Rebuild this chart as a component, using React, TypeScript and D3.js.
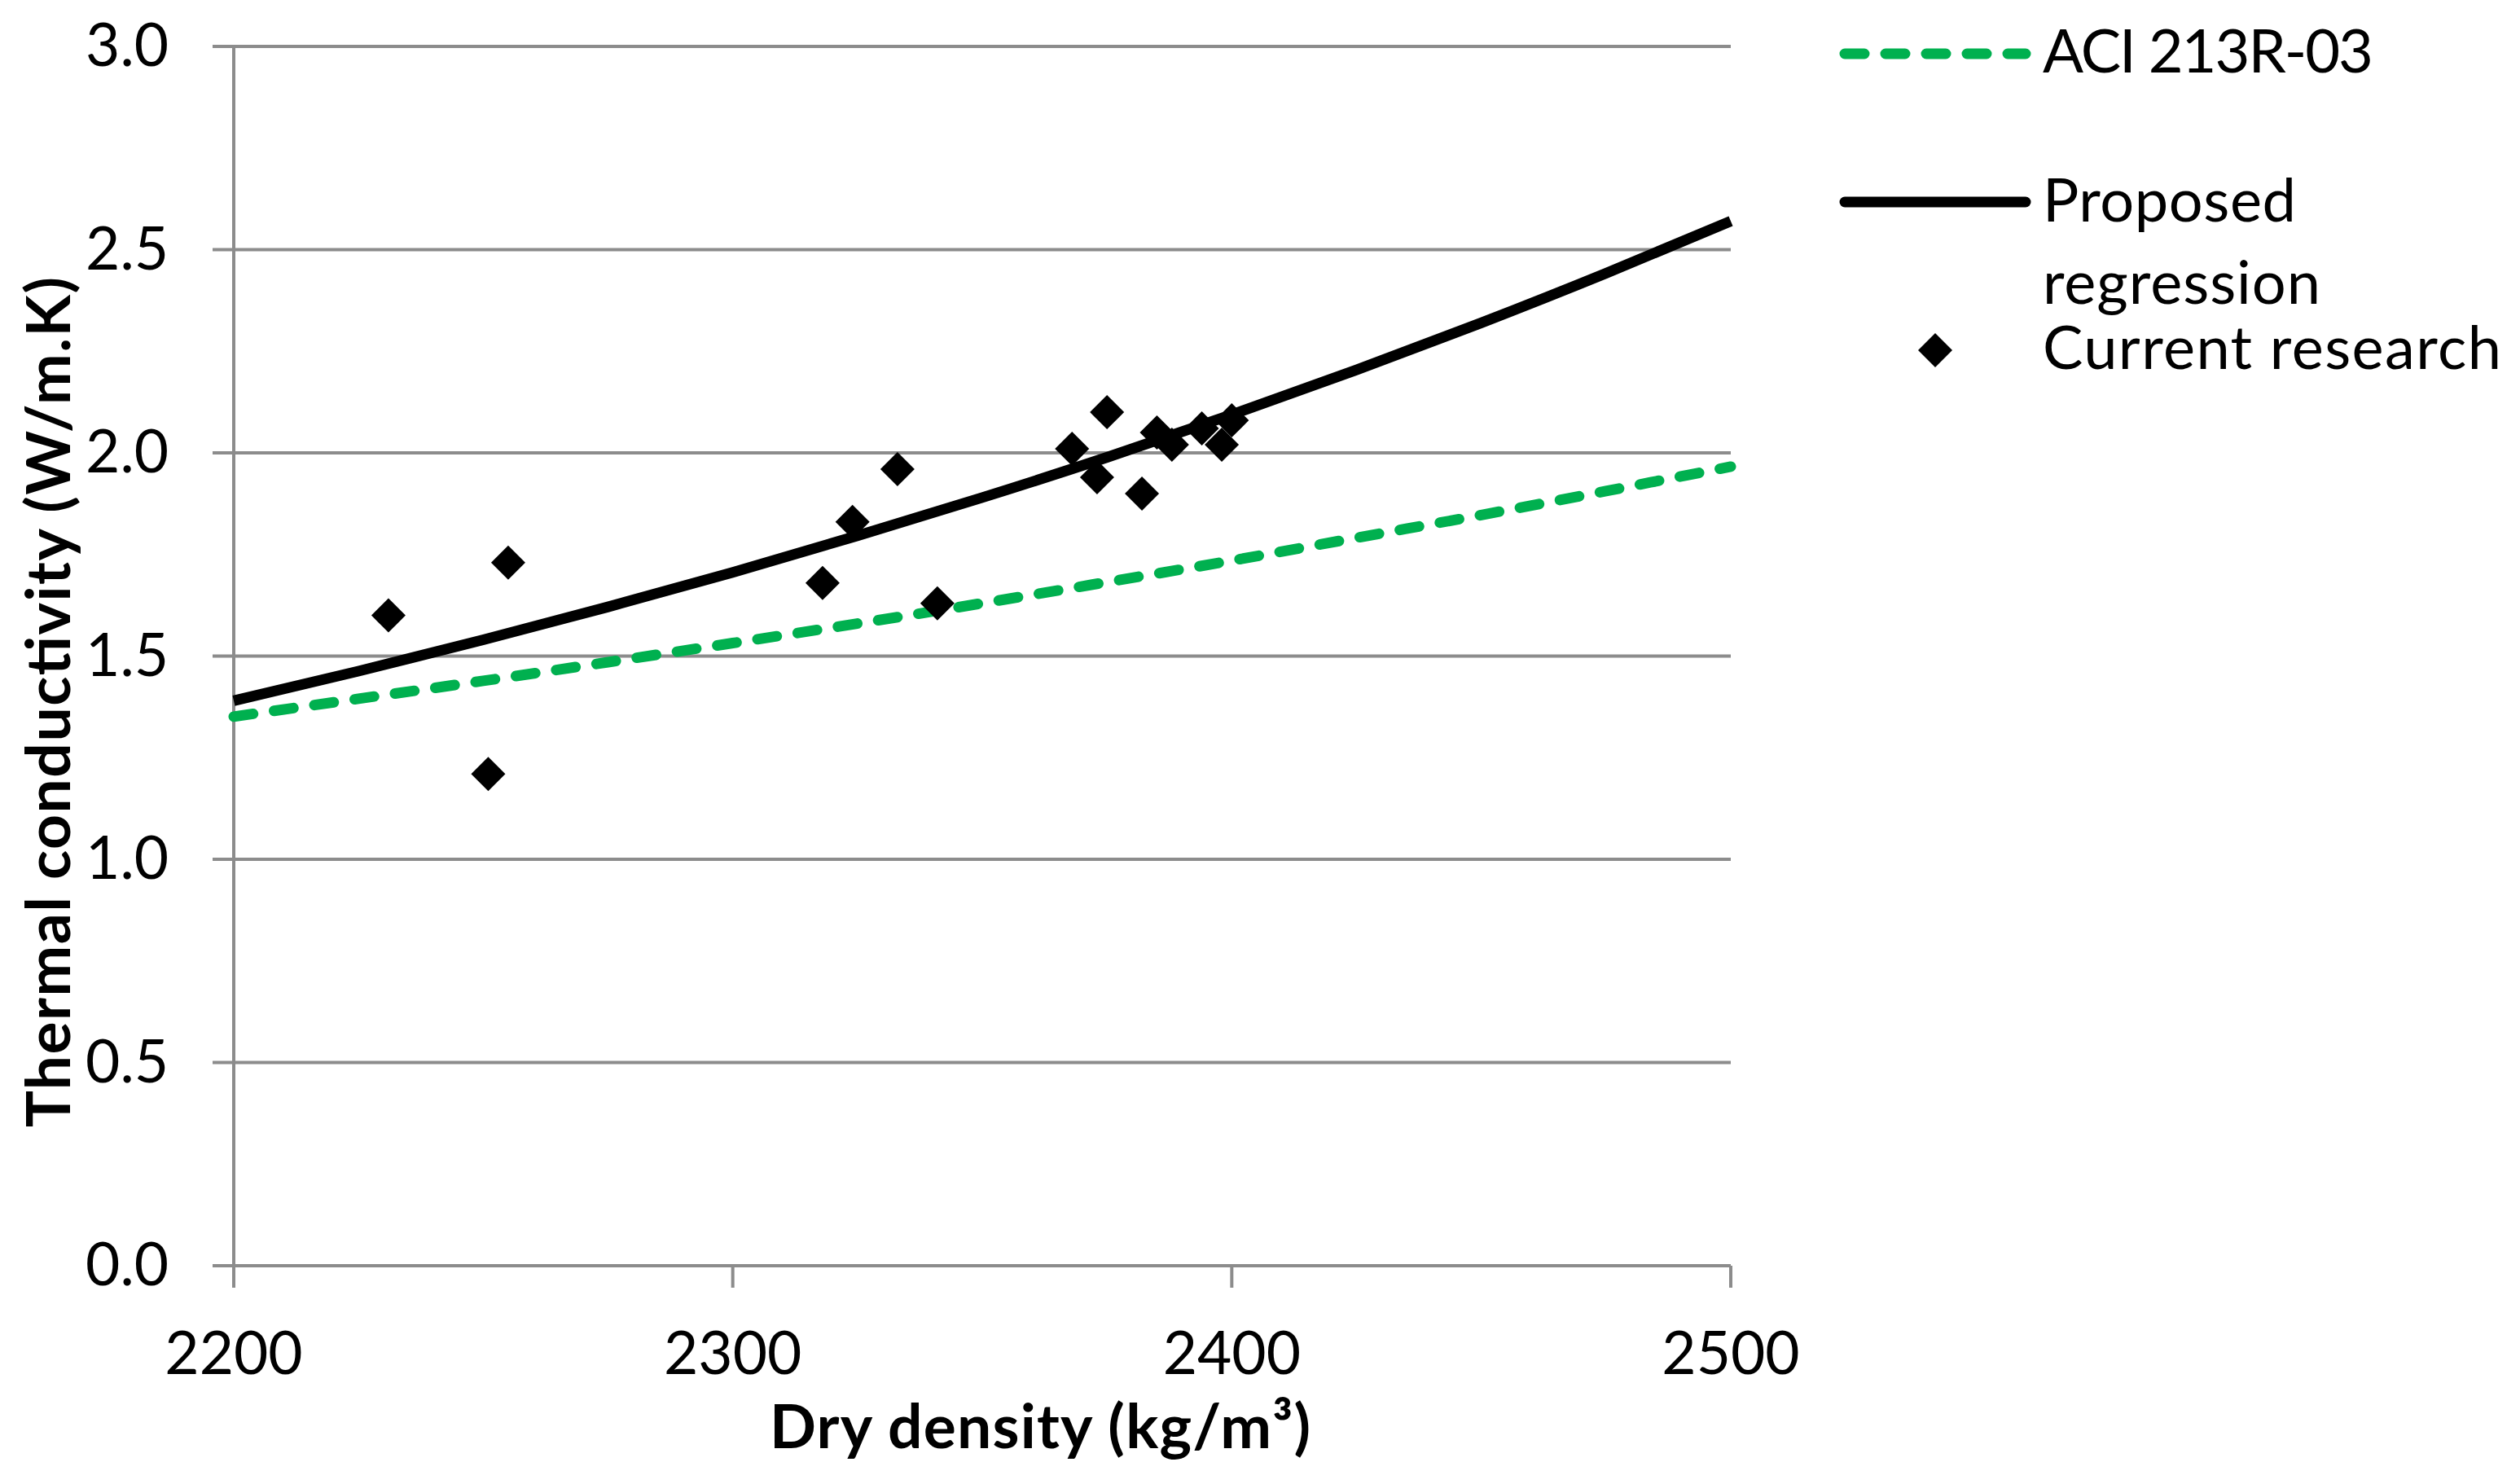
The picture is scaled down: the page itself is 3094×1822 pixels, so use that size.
import { useRef, useEffect } from "react";
import * as d3 from "d3";

// density grid used to read the two curves off the figure
const curveDensity = [2200, 2225, 2250, 2275, 2300, 2325, 2350, 2375, 2400, 2425, 2450, 2475, 2500];
const aciValues = [1.351, 1.395, 1.439, 1.485, 1.532, 1.58, 1.63, 1.682, 1.735, 1.791, 1.847, 1.906, 1.966];
const proposedValues = [1.39, 1.463, 1.54, 1.621, 1.706, 1.796, 1.89, 1.989, 2.094, 2.204, 2.32, 2.442, 2.57];

// measured specimens
const sampleDensity = [2231, 2251, 2255, 2318, 2324, 2333, 2341, 2368, 2373, 2375, 2382, 2385, 2388, 2394, 2398, 2400];
const sampleConductivity = [1.60, 1.21, 1.73, 1.68, 1.83, 1.96, 1.63, 2.01, 1.94, 2.10, 1.90, 2.05, 2.02, 2.06, 2.02, 2.08];

const xTicks = [2200, 2300, 2400, 2500];
const yTicks = [0, 0.5, 1.0, 1.5, 2.0, 2.5, 3.0];

const legendLabels = ["ACI 213R-03", "Proposed", "regression", "Current research"];
const xTitle = "Dry density (kg/m³)";
const yTitle = "Thermal conductivity (W/m.K)";

const GREEN = "#00b04f";
const GRID = "#8c8c8c";
const FONT = "Lato, 'Open Sans', sans-serif";

export default function App() {
  const ref = useRef<SVGSVGElement>(null);

  useEffect(() => {
    if (!ref.current) return;
    const W = 3094;
    const H = 1822;
    const svg = d3.select(ref.current);
    svg.selectAll("*").remove();

    const x = d3.scaleLinear().domain([2200, 2500]).range([287, 2125]);
    const y = d3.scaleLinear().domain([0, 3]).range([1554, 57]);

    svg.append("rect").attr("width", W).attr("height", H).attr("fill", "#fff");

    // Grid lines (extend left as tick marks)
    yTicks.forEach((t) => {
      svg.append("line")
        .attr("x1", 261).attr("x2", x(2500))
        .attr("y1", y(t)).attr("y2", y(t))
        .attr("stroke", GRID).attr("stroke-width", 4);
      svg.append("text")
        .attr("x", 207).attr("y", y(t) + 24)
        .attr("text-anchor", "end")
        .attr("font-family", FONT).attr("font-size", 73)
        .attr("fill", "#000")
        .text(t.toFixed(1));
    });

    // Axes
    svg.append("line").attr("x1", x(2200)).attr("x2", x(2200)).attr("y1", y(3)).attr("y2", y(0))
      .attr("stroke", GRID).attr("stroke-width", 4);
    xTicks.forEach((t) => {
      svg.append("line").attr("x1", x(t)).attr("x2", x(t)).attr("y1", y(0)).attr("y2", y(0) + 27)
        .attr("stroke", GRID).attr("stroke-width", 4);
      svg.append("text")
        .attr("x", x(t)).attr("y", 1687)
        .attr("text-anchor", "middle")
        .attr("font-family", FONT).attr("font-size", 73)
        .attr("fill", "#000")
        .text(t);
    });

    // Axis titles
    svg.append("text")
      .attr("x", 1277).attr("y", 1778)
      .attr("text-anchor", "middle")
      .attr("font-family", FONT).attr("font-size", 75).attr("font-weight", "bold")
      .attr("textLength", 664)
      .text(xTitle);
    svg.append("text")
      .attr("transform", "translate(86,862) rotate(-90)")
      .attr("text-anchor", "middle")
      .attr("font-family", FONT).attr("font-size", 75).attr("font-weight", "bold")
      .attr("textLength", 1044)
      .text(yTitle);

    const line = d3.line<number>()
      .x((_, i) => x(curveDensity[i]))
      .curve(d3.curveNatural);

    // ACI 213R-03 (dashed green)
    svg.append("path")
      .attr("d", line.y((v) => y(v))(aciValues))
      .attr("fill", "none").attr("stroke", GREEN).attr("stroke-width", 13)
      .attr("stroke-dasharray", "24 26").attr("stroke-linecap", "round");

    // Proposed regression (solid black)
    svg.append("path")
      .attr("d", line.y((v) => y(v))(proposedValues))
      .attr("fill", "none").attr("stroke", "#000").attr("stroke-width", 13);

    // Current research points
    const diamond = d3.symbol().type(d3.symbolSquare).size(882);
    sampleDensity.forEach((d, i) => {
      svg.append("path")
        .attr("d", diamond()!)
        .attr("transform", `translate(${x(d)},${y(sampleConductivity[i])}) rotate(45)`)
        .attr("fill", "#000");
    });

    // Legend
    svg.append("line").attr("x1", 2265).attr("x2", 2487).attr("y1", 66).attr("y2", 66)
      .attr("stroke", GREEN).attr("stroke-width", 13)
      .attr("stroke-dasharray", "24 26").attr("stroke-linecap", "round");
    svg.append("line").attr("x1", 2265).attr("x2", 2487).attr("y1", 248).attr("y2", 248)
      .attr("stroke", "#000").attr("stroke-width", 13).attr("stroke-linecap", "round");
    svg.append("path")
      .attr("d", diamond()!)
      .attr("transform", "translate(2376,430) rotate(45)")
      .attr("fill", "#000");
    const legendY = [89, 272, 373, 453];
    const legendW = [406, 311, 341, 563];
    legendLabels.forEach((lbl, i) => {
      svg.append("text")
        .attr("x", 2508).attr("y", legendY[i])
        .attr("font-family", FONT).attr("font-size", 74)
        .attr("textLength", legendW[i])
        .attr("fill", "#000")
        .text(lbl);
    });
  }, []);

  return (
    <svg
      ref={ref}
      width={3094}
      height={1822}
      style={{ display: "block", position: "absolute", left: 0, top: 0 }}
    />
  );
}
